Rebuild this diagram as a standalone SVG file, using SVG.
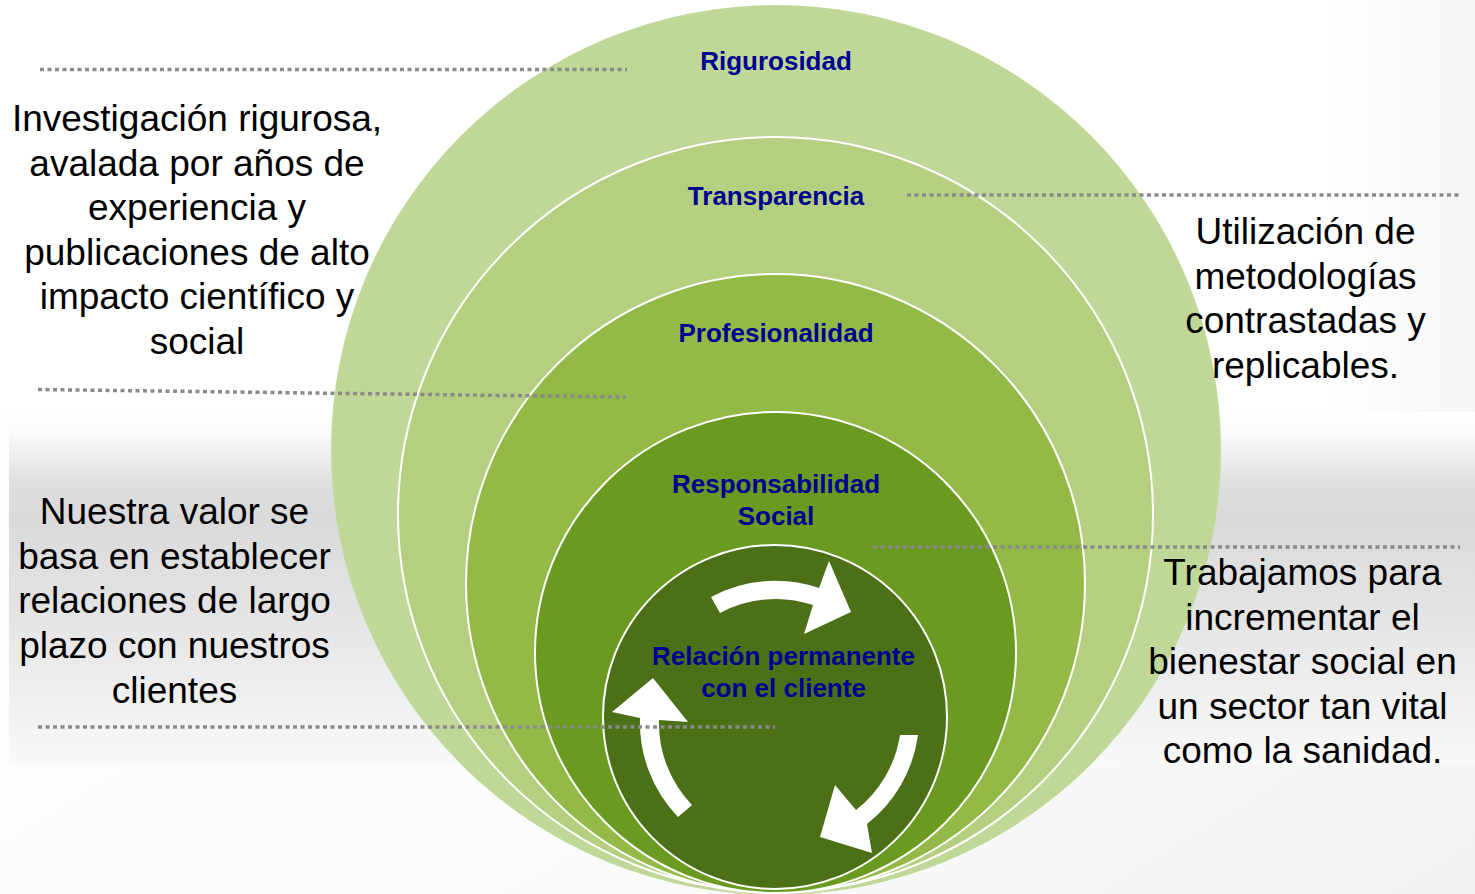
<svg xmlns="http://www.w3.org/2000/svg" width="1475" height="894" viewBox="0 0 1475 894">
  <defs>
    <linearGradient id="bgBase" x1="0" y1="0" x2="1" y2="1">
      <stop offset="0" stop-color="#ffffff"/>
      <stop offset="0.6" stop-color="#fcfcfc"/>
      <stop offset="1" stop-color="#f3f3f3"/>
    </linearGradient>
    <linearGradient id="topBg" x1="0" y1="0" x2="1" y2="0">
      <stop offset="0" stop-color="#ffffff"/>
      <stop offset="0.9" stop-color="#ffffff"/>
      <stop offset="1" stop-color="#f6f6f6"/>
    </linearGradient>
    <linearGradient id="band" x1="0" y1="0" x2="0" y2="1">
      <stop offset="0" stop-color="#ffffff"/>
      <stop offset="0.06" stop-color="#fbfbfb"/>
      <stop offset="0.2" stop-color="#dedede"/>
      <stop offset="0.3" stop-color="#dadada"/>
      <stop offset="0.55" stop-color="#e3e3e3"/>
      <stop offset="0.8" stop-color="#efefef"/>
      <stop offset="1" stop-color="#f9f9f9"/>
    </linearGradient>
    <style>
      .ring { stroke: #ffffff; stroke-width: 2; }
      .lbl { font-family: "Liberation Sans", Arial, sans-serif; font-size: 26px; font-weight: bold; fill: #000090; text-anchor: middle; }
      .desc { font-family: "Liberation Sans", Arial, sans-serif; font-size: 37px; fill: #000000; text-anchor: middle; }
      .dot { stroke: #8a8a8a; stroke-width: 3.5; stroke-dasharray: 4 3.5; fill: none; }
      .arrow { fill: #ffffff; stroke: none; }
    </style>
  </defs>

  <!-- background -->
  <rect x="0" y="0" width="1475" height="894" fill="url(#bgBase)"/>
  <rect x="0" y="0" width="1475" height="412" fill="url(#topBg)"/>
  <rect x="9" y="412" width="1466" height="353" fill="url(#band)"/>

  <!-- nested circles -->
  <g id="node-rigurosidad">
    <circle cx="776" cy="450" r="445" fill="#bfd898"/>
    <text class="lbl" x="776" y="70">Rigurosidad</text>
  </g>
  <g id="node-transparencia">
    <circle class="ring" cx="775.5" cy="514.5" r="377.5" fill="#b3cf7f"/>
    <text class="lbl" x="776" y="205">Transparencia</text>
  </g>
  <g id="node-profesionalidad">
    <circle class="ring" cx="775.5" cy="583.5" r="309.5" fill="#93b946"/>
    <text class="lbl" x="776" y="342">Profesionalidad</text>
  </g>
  <g id="node-responsabilidad">
    <circle class="ring" cx="775.5" cy="652.5" r="240.5" fill="#6a9a1f"/>
    <text class="lbl" x="776" y="493">Responsabilidad</text>
    <text class="lbl" x="776" y="525">Social</text>
  </g>
  <g id="node-relacion">
    <circle class="ring" cx="775" cy="717" r="172" fill="#4b7016"/>
    <path class="arrow" d="M711,597 A136,136 0 0 1 819,588 L829,561 L851,612 L804,634 L813,605 A118,118 0 0 0 720,613 Z"/>
    <path class="arrow" d="M918,735 A136,136 0 0 1 867,824 L872,853 L820,837 L835,785 L856,810 A118,118 0 0 0 900,735 Z"/>
    <path class="arrow" d="M678,817 A136,136 0 0 1 640,718 L612,712 L653,678 L688,722 L659,720 A118,118 0 0 0 692,805 Z"/>
    <text class="lbl" x="783.5" y="665">Relación permanente</text>
    <text class="lbl" x="783.5" y="697">con el cliente</text>
  </g>

  <!-- connectors (dotted leader lines) -->
  <g id="connectors">
    <line class="dot" x1="40" y1="69.5" x2="627" y2="69.5"/>
    <line class="dot" x1="38" y1="389.5" x2="626" y2="397"/>
    <line class="dot" x1="38" y1="727" x2="775" y2="727"/>
    <line class="dot" x1="907" y1="195" x2="1460" y2="195"/>
    <line class="dot" x1="873" y1="547" x2="1460" y2="547"/>
  </g>

  <!-- description texts -->
  <g id="text-investigacion">
    <text class="desc" x="197" y="131">Investigación rigurosa,</text>
    <text class="desc" x="197" y="175.5">avalada por años de</text>
    <text class="desc" x="197" y="220">experiencia y</text>
    <text class="desc" x="197" y="264.5">publicaciones de alto</text>
    <text class="desc" x="197" y="309">impacto científico y</text>
    <text class="desc" x="197" y="354">social</text>
  </g>
  <g id="text-valor">
    <text class="desc" x="174.5" y="524">Nuestra valor se</text>
    <text class="desc" x="174.5" y="568.7">basa en establecer</text>
    <text class="desc" x="174.5" y="613.4">relaciones de largo</text>
    <text class="desc" x="174.5" y="658">plazo con nuestros</text>
    <text class="desc" x="174.5" y="702.7">clientes</text>
  </g>
  <g id="text-metodologias">
    <text class="desc" x="1305.5" y="244">Utilización de</text>
    <text class="desc" x="1305.5" y="288.5">metodologías</text>
    <text class="desc" x="1305.5" y="333">contrastadas y</text>
    <text class="desc" x="1305.5" y="378">replicables.</text>
  </g>
  <g id="text-bienestar">
    <text class="desc" x="1302.5" y="585">Trabajamos para</text>
    <text class="desc" x="1302.5" y="629.5">incrementar el</text>
    <text class="desc" x="1302.5" y="674">bienestar social en</text>
    <text class="desc" x="1302.5" y="718.5">un sector tan vital</text>
    <text class="desc" x="1302.5" y="763">como la sanidad.</text>
  </g>
</svg>
